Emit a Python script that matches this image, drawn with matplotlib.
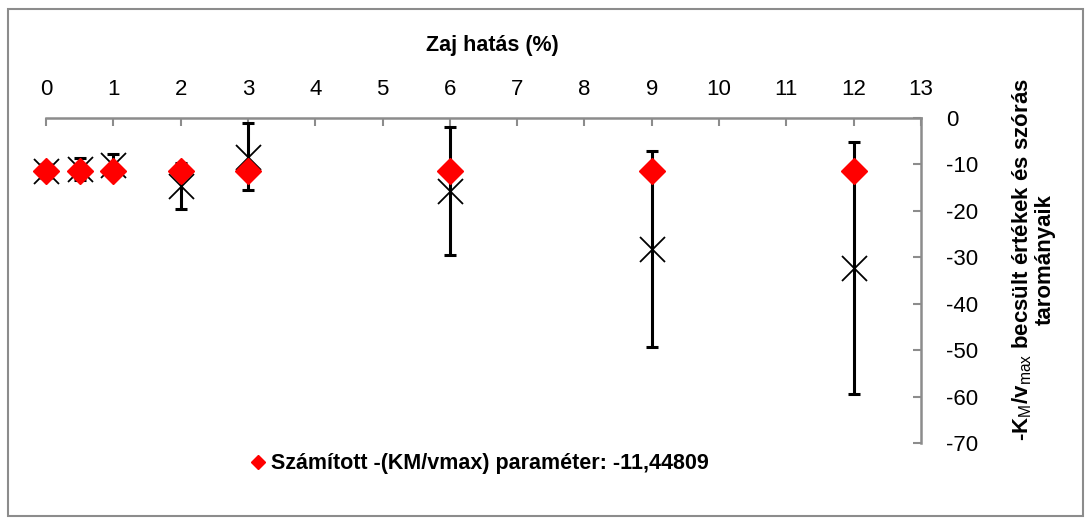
import numpy as np
import matplotlib.pyplot as plt
from matplotlib.patches import Rectangle

plt.rcParams['font.family'] = ['Liberation Sans Narrow', 'Liberation Sans', 'DejaVu Sans']
plt.rcParams['mathtext.fontset'] = 'custom'
plt.rcParams['mathtext.rm'] = 'Liberation Sans'
plt.rcParams['mathtext.default'] = 'rm'
plt.rcParams['axes.unicode_minus'] = False

# zaj hatas (%)
zaj = [0, 0.5, 1, 2, 3, 6, 9, 12]
# becsult atlag es szoras
becsult = [-11.45, -11.0, -10.1, -14.6, -8.3, -15.7, -28.3, -32.25]
szoras = [1.5, 2.4, 2.3, 5.0, 7.2, 13.8, 21.1, 27.1]
szamitott = -11.44809
szamitott_y = [szamitott] * len(zaj)

xticks = list(range(0, 14))
yticks = list(range(0, -71, -10))

fig = plt.figure(figsize=(10.91, 5.24), dpi=100)
ax = fig.add_axes([46/1091, 1-443/524, 875/1091, 325/524])

ax.errorbar(zaj, becsult, yerr=szoras, fmt='none', ecolor='black',
            elinewidth=2.2, capsize=4.5, capthick=2.2, clip_on=False, zorder=2)
ax.plot(zaj, becsult, 'x', color='black', markersize=18, markeredgewidth=1.3,
        clip_on=False, zorder=3)
ax.plot(zaj, szamitott_y, 'D', color='#ff0000', markersize=13.5, linestyle='none',
        clip_on=False, zorder=4,
        label='Számított -(KM/vmax) paraméter: -11,44809')

ax.set_xlim(0, 13)
ax.set_ylim(-70, 0)
ax.set_xticks(xticks)
ax.set_yticks(yticks)

ax.spines['left'].set_visible(False)
ax.spines['bottom'].set_visible(False)
for s in ['top', 'right']:
    ax.spines[s].set_color('#8c8c8c')
    ax.spines[s].set_linewidth(1.8)

ax.xaxis.tick_top()
ax.yaxis.tick_right()
ax.tick_params(axis='x', direction='in', length=6, width=1.5, color='#8c8c8c',
               labelsize=16, pad=13)
ax.tick_params(axis='y', direction='in', length=6, width=1.5, color='#8c8c8c',
               labelsize=16, pad=18)

fig.text(492/1091, 1-45/524, 'Zaj hatás (%)', ha='center', va='center',
         fontsize=15.5, fontweight='bold')
fig.text(1033/1091, 1-260/524,
         '-K$_{M}$/v$_{max}$ becsült értékek és szórás\ntarományaik',
         rotation=90, ha='center', va='center', fontsize=16,
         fontweight='bold', linespacing=1.0)

ax.legend(loc='center', bbox_to_anchor=(478/1091, 1-464/524),
          bbox_transform=fig.transFigure, frameon=False,
          prop={'weight': 'bold', 'size': 15.5}, handletextpad=0.1,
          markerscale=0.55, handlelength=1.0)

fig.patches.append(Rectangle((8/1091, 1-516/524), 1075/1091, 507/524,
                             transform=fig.transFigure, fill=False,
                             edgecolor='#8c8c8c', linewidth=1.5))

fig.savefig('out.png', dpi=100)
